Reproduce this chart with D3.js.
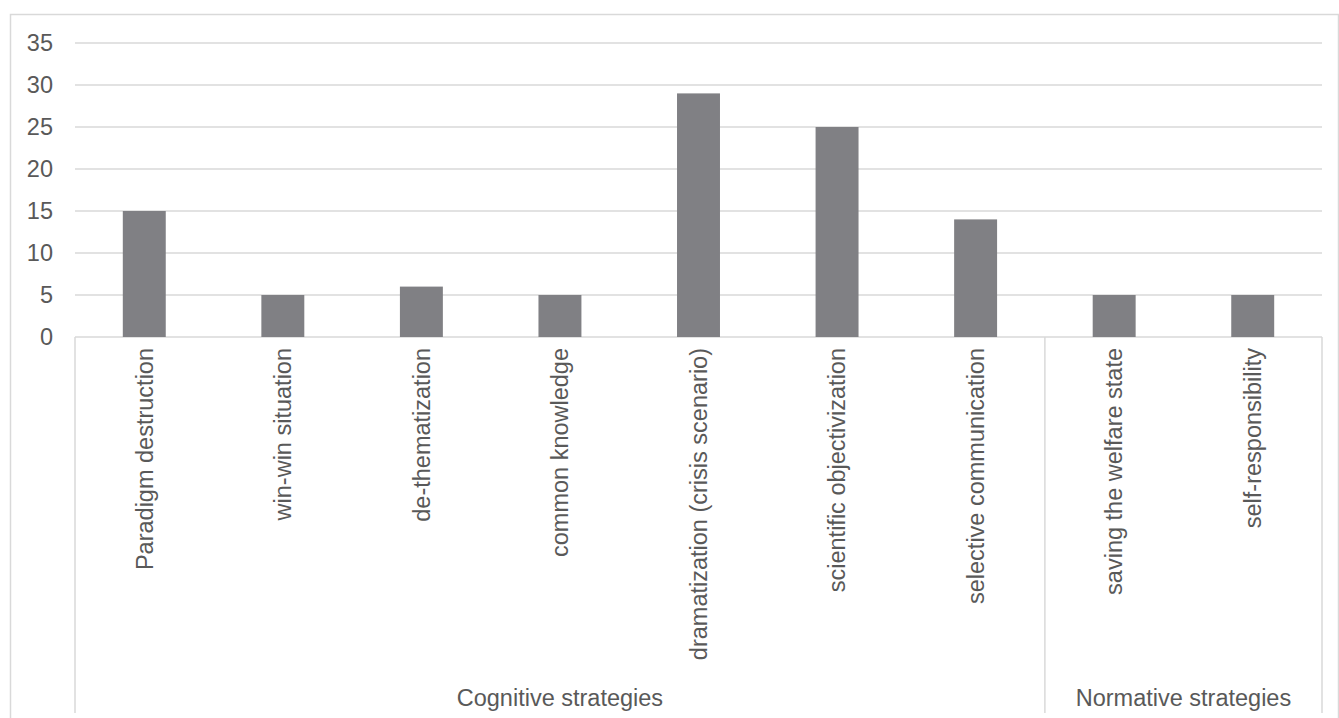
<!DOCTYPE html>
<html>
<head>
<meta charset="utf-8">
<script src="https://cdn.jsdelivr.net/npm/d3@7"></script>
<style>
  body { margin: 0; background: #fff; }
  text { font-family: "Liberation Sans", Arial, sans-serif; fill: #595959; }
</style>
</head>
<body>
<div id="chart"></div>
<script>
// data
const categories = ["Paradigm destruction", "win-win situation", "de-thematization", "common knowledge",
  "dramatization (crisis scenario)", "scientific objectivization", "selective communication",
  "saving the welfare state", "self-responsibility"];
const values = [15, 5, 6, 5, 29, 25, 14, 5, 5];
const groupNames = ["Cognitive strategies", "Normative strategies"];
const groupSizes = [7, 2];
const yTicks = [0, 5, 10, 15, 20, 25, 30, 35];

const W = 1339, H = 718;
const margin = {top: 43, right: 17, bottom: 381, left: 75};
const width = W - margin.left - margin.right,
    height = H - margin.top - margin.bottom;

const svg = d3.select("#chart").append("svg")
    .attr("width", W)
    .attr("height", H);

// outer chart border
svg.append("rect")
    .attr("x", 10.5).attr("y", 14.5)
    .attr("width", 1328).attr("height", 720)
    .attr("fill", "none")
    .attr("stroke", "#d9d9d9")
    .attr("stroke-width", 1.5);

const g = svg.append("g")
    .attr("transform", "translate(" + margin.left + "," + margin.top + ")");

const x = d3.scaleBand().domain(categories).range([0, width]).paddingInner(0.69).paddingOuter(0.345);
const y = d3.scaleLinear().domain([0, 35]).range([height, 0]);

// gridlines
g.selectAll(".grid").data(yTicks).join("line")
    .attr("x1", 0).attr("x2", width)
    .attr("y1", d => y(d)).attr("y2", d => y(d))
    .attr("stroke", "#d9d9d9").attr("stroke-width", 1.5);

// y tick labels
g.selectAll(".ylab").data(yTicks).join("text")
    .attr("x", -22)
    .attr("y", d => y(d))
    .attr("dy", "0.35em")
    .attr("text-anchor", "end")
    .style("font-size", "23.5px")
    .text(d => d);

// bars
g.selectAll(".bar").data(values).join("rect")
    .attr("x", (d, i) => x(categories[i]))
    .attr("y", d => y(d))
    .attr("width", x.bandwidth())
    .attr("height", d => height - y(d))
    .attr("fill", "#808084");

// category labels (rotated)
g.selectAll(".clab").data(categories).join("text")
    .attr("transform", d => "translate(" + (x(d) + x.bandwidth() / 2) + "," + (height + 11) + ") rotate(-90)")
    .attr("text-anchor", "end")
    .attr("dy", "0.35em")
    .style("font-size", "23.5px")
    .text(d => d);

// group separators and labels
const step = x.step();
let start = 0;
const bounds = [0];
groupSizes.forEach(n => { start += n; bounds.push(start); });

g.selectAll(".sep").data(bounds).join("line")
    .attr("x1", d => d * step).attr("x2", d => d * step)
    .attr("y1", height).attr("y2", 713 - margin.top)
    .attr("stroke", "#d9d9d9").attr("stroke-width", 1.5);

g.selectAll(".glab").data(groupNames).join("text")
    .attr("x", (d, i) => (bounds[i] + bounds[i + 1]) / 2 * step)
    .attr("y", 706 - margin.top)
    .attr("text-anchor", "middle")
    .style("font-size", "23.5px")
    .text(d => d);
</script>
</body>
</html>
